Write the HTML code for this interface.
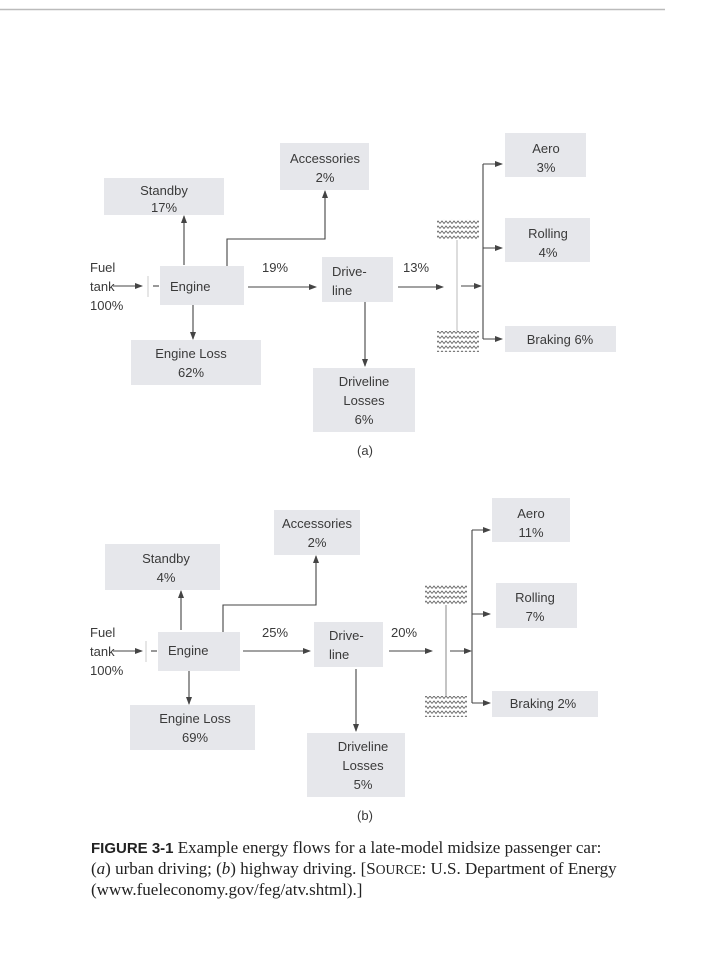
<!DOCTYPE html>
<html><head><meta charset="utf-8"><style>
html,body{margin:0;padding:0;background:#fff;width:720px;height:960px;overflow:hidden}
svg{display:block}
.t{font-family:"Liberation Sans",sans-serif;font-size:13px;fill:#3a3a3a}
.b{fill:#e6e7eb}
.l{stroke:#444;stroke-width:1.1;fill:none}
.c{font-family:"Liberation Serif",serif;font-size:17px;fill:#222}
</style></head><body>
<svg width="720" height="960" viewBox="0 0 720 960" xmlns="http://www.w3.org/2000/svg">
<defs>
<marker id="a" markerWidth="8" markerHeight="6" refX="7" refY="3" orient="auto" markerUnits="userSpaceOnUse"><path d="M0,0 L8,3 L0,6 z" fill="#444"/></marker>
<pattern id="w" width="8" height="5" patternUnits="userSpaceOnUse"><path d="M0,3.5 L2,1 L4,3.5 L6,1 L8,3.5" stroke="#666" stroke-width="0.9" fill="none"/></pattern>
</defs>
<line x1="0" y1="9.5" x2="665" y2="9.5" stroke="#bbb" stroke-width="1.5"/>

<!-- Panel a -->
<g>
<rect class="b" x="280" y="143" width="89" height="47"/>
<text class="t" x="325" y="163" text-anchor="middle">Accessories</text>
<text class="t" x="325" y="182" text-anchor="middle">2%</text>
<rect class="b" x="104" y="178" width="120" height="37"/>
<text class="t" x="164" y="195" text-anchor="middle">Standby</text>
<text class="t" x="164" y="212" text-anchor="middle">17%</text>
<rect class="b" x="160" y="266" width="84" height="39"/>
<text class="t" x="170" y="291">Engine</text>
<rect class="b" x="131" y="340" width="130" height="45"/>
<text class="t" x="191" y="358" text-anchor="middle">Engine Loss</text>
<text class="t" x="191" y="377" text-anchor="middle">62%</text>
<rect class="b" x="322" y="257" width="71" height="45"/>
<text class="t" x="332" y="276">Drive-</text>
<text class="t" x="332" y="295">line</text>
<rect class="b" x="313" y="368" width="102" height="64"/>
<text class="t" x="364" y="386" text-anchor="middle">Driveline</text>
<text class="t" x="364" y="405" text-anchor="middle">Losses</text>
<text class="t" x="364" y="424" text-anchor="middle">6%</text>
<text class="t" x="365" y="455" text-anchor="middle">(a)</text>
<text class="t" x="90" y="272">Fuel</text>
<text class="t" x="90" y="291">tank</text>
<text class="t" x="90" y="310">100%</text>
<line class="l" x1="113" y1="286" x2="142" y2="286" marker-end="url(#a)"/>
<line x1="148" y1="276" x2="148" y2="297" stroke="#ccc"/>
<line class="l" x1="153" y1="286" x2="159" y2="286"/>
<line class="l" x1="184" y1="265" x2="184" y2="216" marker-end="url(#a)"/>
<path class="l" d="M227,266 V239 H325 V191" marker-end="url(#a)"/>
<line class="l" x1="193" y1="305" x2="193" y2="339" marker-end="url(#a)"/>
<text class="t" x="262" y="272">19%</text>
<line class="l" x1="248" y1="287" x2="316" y2="287" marker-end="url(#a)"/>
<line class="l" x1="365" y1="302" x2="365" y2="366" marker-end="url(#a)"/>
<text class="t" x="403" y="272">13%</text>
<line class="l" x1="398" y1="287" x2="443" y2="287" marker-end="url(#a)"/>
<rect x="437" y="219" width="42" height="21" fill="url(#w)"/>
<rect x="437" y="331" width="42" height="21" fill="url(#w)"/>
<line x1="457" y1="240" x2="457" y2="331" stroke="#bbb"/>
<line class="l" x1="461" y1="286" x2="481" y2="286" marker-end="url(#a)"/>
<line class="l" x1="483" y1="164" x2="483" y2="339"/>
<line class="l" x1="483" y1="164" x2="502" y2="164" marker-end="url(#a)"/>
<line class="l" x1="483" y1="248" x2="502" y2="248" marker-end="url(#a)"/>
<line class="l" x1="483" y1="339" x2="502" y2="339" marker-end="url(#a)"/>
<rect class="b" x="505" y="133" width="81" height="44"/>
<text class="t" x="546" y="153" text-anchor="middle">Aero</text>
<text class="t" x="546" y="172" text-anchor="middle">3%</text>
<rect class="b" x="505" y="218" width="85" height="44"/>
<text class="t" x="548" y="238" text-anchor="middle">Rolling</text>
<text class="t" x="548" y="257" text-anchor="middle">4%</text>
<rect class="b" x="505" y="326" width="111" height="26"/>
<text class="t" x="560" y="344" text-anchor="middle">Braking 6%</text>
</g>

<!-- Panel b -->
<g>
<rect class="b" x="274" y="510" width="86" height="45"/>
<text class="t" x="317" y="528" text-anchor="middle">Accessories</text>
<text class="t" x="317" y="547" text-anchor="middle">2%</text>
<rect class="b" x="105" y="544" width="115" height="46"/>
<text class="t" x="166" y="563" text-anchor="middle">Standby</text>
<text class="t" x="166" y="582" text-anchor="middle">4%</text>
<rect class="b" x="158" y="632" width="82" height="39"/>
<text class="t" x="168" y="655">Engine</text>
<rect class="b" x="130" y="705" width="125" height="45"/>
<text class="t" x="195" y="723" text-anchor="middle">Engine Loss</text>
<text class="t" x="195" y="742" text-anchor="middle">69%</text>
<rect class="b" x="314" y="622" width="69" height="45"/>
<text class="t" x="329" y="640">Drive-</text>
<text class="t" x="329" y="659">line</text>
<rect class="b" x="307" y="733" width="98" height="64"/>
<text class="t" x="363" y="751" text-anchor="middle">Driveline</text>
<text class="t" x="363" y="770" text-anchor="middle">Losses</text>
<text class="t" x="363" y="789" text-anchor="middle">5%</text>
<text class="t" x="365" y="820" text-anchor="middle">(b)</text>
<text class="t" x="90" y="637">Fuel</text>
<text class="t" x="90" y="656">tank</text>
<text class="t" x="90" y="675">100%</text>
<line class="l" x1="113" y1="651" x2="142" y2="651" marker-end="url(#a)"/>
<line x1="146" y1="641" x2="146" y2="662" stroke="#ccc"/>
<line class="l" x1="151" y1="651" x2="157" y2="651"/>
<line class="l" x1="181" y1="630" x2="181" y2="591" marker-end="url(#a)"/>
<path class="l" d="M223,632 V605 H316 V556" marker-end="url(#a)"/>
<line class="l" x1="189" y1="671" x2="189" y2="704" marker-end="url(#a)"/>
<text class="t" x="262" y="637">25%</text>
<line class="l" x1="243" y1="651" x2="310" y2="651" marker-end="url(#a)"/>
<line class="l" x1="356" y1="669" x2="356" y2="731" marker-end="url(#a)"/>
<text class="t" x="391" y="637">20%</text>
<line class="l" x1="389" y1="651" x2="432" y2="651" marker-end="url(#a)"/>
<rect x="425" y="584" width="42" height="21" fill="url(#w)"/>
<rect x="425" y="696" width="42" height="21" fill="url(#w)"/>
<line x1="446" y1="605" x2="446" y2="696" stroke="#888"/>
<line class="l" x1="450" y1="651" x2="471" y2="651" marker-end="url(#a)"/>
<line class="l" x1="472" y1="530" x2="472" y2="703"/>
<line class="l" x1="472" y1="530" x2="490" y2="530" marker-end="url(#a)"/>
<line class="l" x1="472" y1="614" x2="490" y2="614" marker-end="url(#a)"/>
<line class="l" x1="472" y1="703" x2="490" y2="703" marker-end="url(#a)"/>
<rect class="b" x="492" y="498" width="78" height="44"/>
<text class="t" x="531" y="518" text-anchor="middle">Aero</text>
<text class="t" x="531" y="537" text-anchor="middle">11%</text>
<rect class="b" x="496" y="583" width="81" height="45"/>
<text class="t" x="535" y="602" text-anchor="middle">Rolling</text>
<text class="t" x="535" y="621" text-anchor="middle">7%</text>
<rect class="b" x="492" y="691" width="106" height="26"/>
<text class="t" x="543" y="708" text-anchor="middle">Braking 2%</text>
</g>

<text class="c" x="91" y="853"><tspan font-family="Liberation Sans Narrow, Liberation Sans, sans-serif" font-weight="bold" font-size="15">FIGURE 3-1</tspan> Example energy flows for a late-model midsize passenger car:</text>
<text class="c" x="91" y="874">(<tspan font-style="italic">a</tspan>) urban driving; (<tspan font-style="italic">b</tspan>) highway driving. [S<tspan font-size="13.5">OURCE</tspan>: U.S. Department of Energy</text>
<text class="c" x="91" y="895">(www.fueleconomy.gov/feg/atv.shtml).]</text>
</svg>
</body></html>
